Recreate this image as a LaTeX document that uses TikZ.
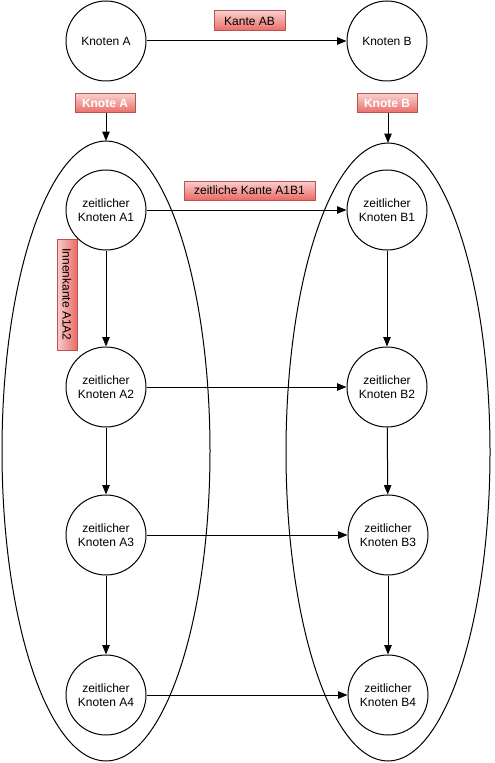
\documentclass[tikz,border=0pt]{standalone}
\usepackage{fontspec}
\setmainfont{Liberation Sans}
\usetikzlibrary{arrows.meta}
\definecolor{tagtop}{HTML}{F8CECC}
\definecolor{tagbottom}{HTML}{EA6B66}
\definecolor{tagline}{HTML}{B85450}
\begin{document}
\begin{tikzpicture}[x=0.75pt,y=-0.75pt,
  every node/.style={font=\fontsize{9}{10.5}\selectfont},
  knot/.style={circle,draw,line width=0.75pt,minimum size=60pt,inner sep=0pt,align=center},
  hull/.style={ellipse,draw,line width=0.75pt},
  tag/.style={draw=tagline,line width=0.75pt,top color=tagtop,bottom color=tagbottom,
              inner sep=0pt,anchor=center},
  tagw/.style={tag,text=white,font=\fontsize{9}{10.5}\selectfont\bfseries},
  link/.style={line width=0.75pt,-{Stealth[length=7pt,width=5.5pt,inset=0pt]}}]
\useasboundingbox (0,0) rectangle (494,763);

% ellipses enclosing the temporal nodes
\draw[line width=0.75pt] (106,451) ellipse [x radius=104, y radius=310];
\draw[line width=0.75pt] (388,452) ellipse [x radius=102, y radius=309];
\coordinate (elA) at (106,141);
\coordinate (elB) at (388,143);

% top-level nodes
\node[knot] (A) at (106,41) {Knoten A};
\node[knot] (B) at (387,41) {Knoten B};

% temporal nodes
\node[knot] (A1) at (106,210) {zeitlicher\\Knoten A1};
\node[knot] (A2) at (106,387) {zeitlicher\\Knoten A2};
\node[knot] (A3) at (106,535) {zeitlicher\\Knoten A3};
\node[knot] (A4) at (106,695) {zeitlicher\\Knoten A4};
\node[knot] (B1) at (387,210) {zeitlicher\\Knoten B1};
\node[knot] (B2) at (387,387) {zeitlicher\\Knoten B2};
\node[knot] (B3) at (388,535) {zeitlicher\\Knoten B3};
\node[knot] (B4) at (388,695) {zeitlicher\\Knoten B4};

% labels
\node[tag,minimum width=53.25pt,minimum height=15pt] (kAB) at (249.5,21) {Kante AB};
\node[tagw,minimum width=45pt,minimum height=14.25pt] (kA) at (105,103.5) {Knote A};
\node[tagw,minimum width=45pt,minimum height=14.25pt] (kB) at (387,103.5) {Knote B};
\node[tag,minimum width=98.25pt,minimum height=14.25pt] (kA1B1) at (249.5,190.5) {zeitliche Kante A1B1};
\node[tag,minimum width=83.25pt,minimum height=15pt,rotate=-90,shading angle=90] (kA1A2) at (67,294.5) {Innenkante A1A2};

% connectors
\draw[link] (A) -- (B);
\draw[link] (kA.south -| elA) -- (elA);
\draw[link] (kB.south -| elB) -- (elB);
\draw[link] (A1) -- (B1);
\draw[link] (A2) -- (B2);
\draw[link] (A3) -- (B3);
\draw[link] (A4) -- (B4);
\draw[link] (A1) -- (A2);
\draw[link] (A2) -- (A3);
\draw[link] (A3) -- (A4);
\draw[link] (B1) -- (B2);
\draw[link] (B2) -- (B3);
\draw[link] (B3) -- (B4);
\end{tikzpicture}
\end{document}
